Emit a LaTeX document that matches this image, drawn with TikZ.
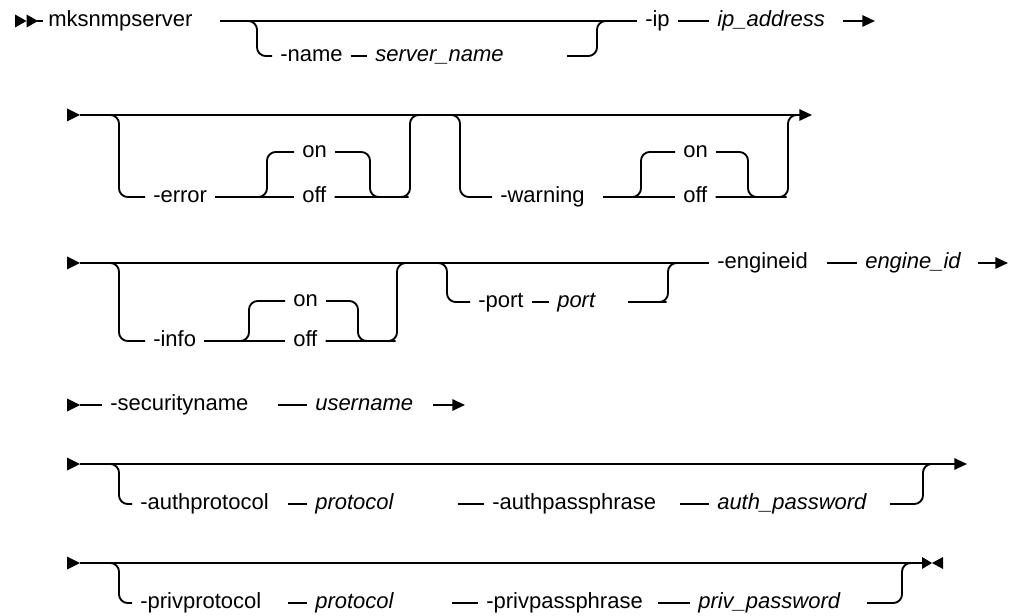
\documentclass[tikz,border=0pt]{standalone}
\usepackage{fontspec}
\setmainfont{Liberation Sans}
\usetikzlibrary{arrows.meta}
\begin{document}
\begin{tikzpicture}[x=0.75pt,y=-0.75pt,
  ln/.style={line width=1.4pt},
  rr/.style={line width=1.4pt, rounded corners=6.5pt},
  kw/.style={anchor=mid west, inner xsep=6pt, inner ysep=0pt, font=\fontsize{16.5}{19}\selectfont},
  var/.style={kw, font=\fontsize{16.5}{19}\selectfont\itshape},
  tip/.style={line width=1.4pt, -{Triangle[length=9.5pt,width=8.5pt]}},
  startmark/.pic={\fill (-13,-6.5) -- (0,0) -- (-13,6.5) -- cycle;}
  ]
\fontsize{16.5}{19}\selectfont
\fill[white] (0,0) rectangle (1010,616);
\useasboundingbox (0,0) rectangle (1010,616);

% ---------- row 1
\fill (15,14.5) -- (26.5,21) -- (15,27.5) -- cycle;
\fill (26.5,14.5) -- (38,21) -- (26.5,27.5) -- cycle;
\draw[ln] (37,21) -- (43,21);
\node[kw] (cmd) at (40,21) {mksnmpserver};
\coordinate (r1s) at (220,21);
\node[kw] (name) at (272,56) {-name};
\node[var] (sname) at (367,56) {server\_name};
\node[kw] (ip) at (637,21) {-ip};
\node[var] (ipa) at (709,21) {ip\_address};
\draw[ln] (r1s) -- (ip.mid west);
\draw[rr] (247,21) -| (257,56) -- (name.mid west);
\draw[ln] (name.mid east) -- (sname.mid west);
\draw[rr] (567,56) -| (597,21) -- (607,21);
\draw[ln] (ip.mid east) -- (ipa.mid west);
\draw[tip] (843,21) -- (875,21);

% ---------- row 2
\pic at (80,115) {startmark};
\draw[tip] (80,115) -- (812,115);
\node[kw] (err) at (145,197) {-error};
\node[kw] (on1) at (294,152) {on};
\node[kw] (off1) at (294,197) {off};
\draw[rr] (108,115) -| (119,197) -- (err.mid west);
\draw[ln] (err.mid east) -- (off1.mid west);
\draw[rr] (257,197) -| (267,152) -- (on1.mid west);
\draw[rr] (on1.mid east) -| (370,197) -- (380,197);
\draw[rr] (off1.mid east) -- (400,197) -| (410,115) -- (420,115);
\node[kw] (warn) at (492,197) {-warning};
\node[kw] (on2) at (675,152) {on};
\node[kw] (off2) at (675,197) {off};
\coordinate (w1) at (603,197);
\draw[rr] (450,115) -| (460,197) -- (warn.mid west);
\draw[ln] (w1) -- (off2.mid west);
\draw[rr] (631,197) -| (641,152) -- (on2.mid west);
\draw[rr] (on2.mid east) -| (748,197) -- (758,197);
\draw[rr] (off2.mid east) -- (778,197) -| (788,115) -- (798,115);

% ---------- row 3
\pic at (80,263) {startmark};
\node[kw] (eng) at (709,263) {-engineid};
\node[var] (engv) at (857,263) {engine\_id};
\coordinate (e1) at (827,263);
\draw[ln] (80,263) -- (eng.mid west);
\draw[ln] (e1) -- (engv.mid west);
\draw[tip] (978,263) -- (1008,263);
\node[kw] (info) at (145,341) {-info};
\node[kw] (on3) at (285,301) {on};
\node[kw] (off3) at (285,341) {off};
\draw[rr] (108,263) -| (119,341) -- (info.mid west);
\draw[ln] (info.mid east) -- (off3.mid west);
\draw[rr] (239,341) -| (249,301) -- (on3.mid west);
\draw[rr] (on3.mid east) -| (358,341) -- (368,341);
\draw[rr] (off3.mid east) -- (387,341) -| (397,263) -- (407,263);
\node[kw] (port) at (470,302) {-port};
\node[var] (portv) at (549,302) {port};
\coordinate (p1) at (628,302);
\draw[rr] (437,263) -| (447,302) -- (port.mid west);
\draw[ln] (port.mid east) -- (portv.mid west);
\draw[rr] (p1) -- (658,302) -| (668,263) -- (678,263);

% ---------- row 4
\pic at (80,405) {startmark};
\node[kw] (sec) at (102,405) {-securityname};
\node[var] (user) at (307,405) {username};
\coordinate (s1) at (278,405);
\draw[ln] (80,405) -- (sec.mid west);
\draw[ln] (s1) -- (user.mid west);
\draw[tip] (433,405) -- (465,405);

% ---------- row 5
\pic at (80,464) {startmark};
\draw[tip] (80,464) -- (967,464);
\node[kw] (ap) at (132,504) {-authprotocol};
\node[var] (apv) at (307,504) {protocol};
\node[kw] (aph) at (484,504) {-authpassphrase};
\node[var] (apw) at (709,504) {auth\_password};
\coordinate (a1) at (288,504);
\coordinate (a2) at (458,504);
\coordinate (a3) at (680,504);
\draw[rr] (108,464) -| (119,504) -- (ap.mid west);
\draw[ln] (a1) -- (apv.mid west);
\draw[ln] (a2) -- (aph.mid west);
\draw[ln] (a3) -- (apw.mid west);
\draw[rr] (890,504) -| (923,464) -- (933,464);

% ---------- row 6
\pic at (80,563) {startmark};
\draw[ln] (80,563) -- (922,563);
\fill (922,557) -- (932,563) -- (922,569) -- cycle;
\fill (943,557) -- (932,563) -- (943,569) -- cycle;
\node[kw] (pp) at (132,603) {-privprotocol};
\node[var] (ppv) at (307,603) {protocol};
\node[kw] (pph) at (478,603) {-privpassphrase};
\node[var] (ppw) at (690,603) {priv\_password};
\coordinate (q1) at (288,603);
\coordinate (q2) at (452,603);
\coordinate (q3) at (658,603);
\draw[rr] (108,563) -| (119,603) -- (pp.mid west);
\draw[ln] (q1) -- (ppv.mid west);
\draw[ln] (q2) -- (pph.mid west);
\draw[ln] (q3) -- (ppw.mid west);
\draw[rr] (867,603) -| (902,563) -- (912,563);
\end{tikzpicture}
\end{document}
